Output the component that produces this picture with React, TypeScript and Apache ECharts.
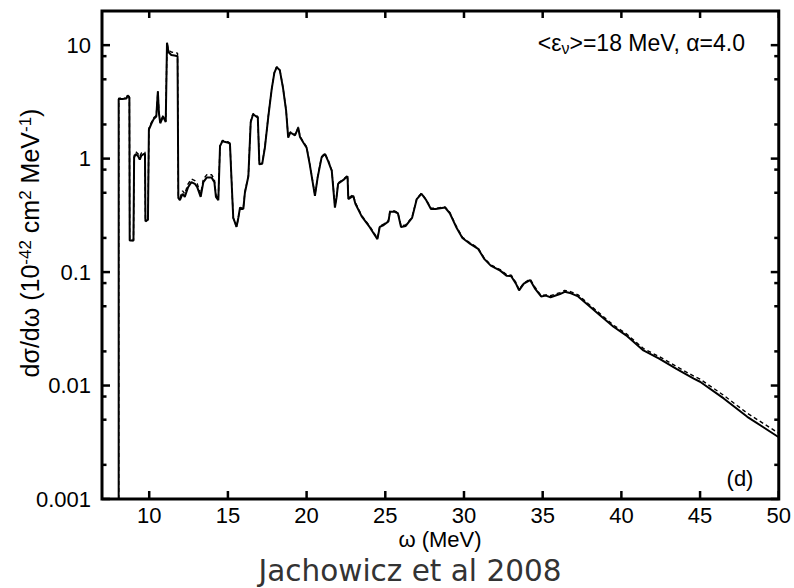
import React, { useEffect, useRef } from "react";
import * as echarts from "echarts";

const omega = [8.06, 8.06, 8.3, 8.55, 8.63, 8.74, 8.76, 9.0, 9.04, 9.15, 9.3, 9.4, 9.5, 9.65, 9.73, 9.76, 9.92, 9.98, 10.15, 10.3, 10.45, 10.55, 10.62, 10.7, 10.88, 11.05, 11.13, 11.22, 11.4, 11.6, 11.8, 11.85, 11.95, 12.12, 12.26, 12.47, 12.68, 12.9, 13.05, 13.27, 13.44, 13.65, 13.97, 14.14, 14.24, 14.39, 14.5, 14.65, 15.03, 15.13, 15.24, 15.34, 15.55, 15.66, 15.77, 15.98, 16.08, 16.3, 16.45, 16.6, 16.9, 17.0, 17.18, 17.35, 17.56, 17.78, 17.95, 18.1, 18.3, 18.5, 18.7, 18.83, 18.97, 19.26, 19.47, 19.58, 19.8, 20.0, 20.2, 20.53, 20.7, 20.95, 21.16, 21.37, 21.6, 21.8, 21.9, 22.0, 22.4, 22.6, 22.65, 22.96, 23.1, 23.5, 24.0, 24.5, 24.65, 24.9, 25.2, 25.3, 25.6, 25.8, 26.0, 26.3, 26.7, 27.0, 27.3, 27.6, 27.9, 28.2, 28.8, 29.1, 29.5, 29.9, 30.4, 30.9, 31.3, 31.7, 32.3, 32.7, 33.0, 33.3, 33.5, 33.8, 34.2, 34.5, 34.9, 35.2, 35.5, 36.1, 36.4, 36.8, 37.25, 37.9, 38.6, 39.5, 40.3, 41.4, 42.4, 43.5, 44.6, 45.0, 46.5, 48.0, 50.0];

const sigmaSolid = [0.001, 3.35, 3.35, 3.38, 3.6, 3.45, 0.19, 0.19, 1.02, 1.1, 1.05, 0.98, 1.06, 1.1, 1.1, 0.28, 0.29, 1.8, 2.05, 2.25, 2.35, 3.9, 2.5, 2.05, 2.35, 2.1, 10.5, 8.7, 8.2, 8.1, 8.0, 0.45, 0.43, 0.49, 0.46, 0.56, 0.62, 0.6, 0.56, 0.46, 0.62, 0.68, 0.68, 0.62, 0.46, 0.43, 1.29, 1.42, 1.38, 1.35, 0.6, 0.3, 0.25, 0.3, 0.37, 0.36, 0.5, 0.7, 2.1, 2.46, 2.3, 0.89, 0.9, 1.25, 2.3, 4.07, 5.7, 6.4, 6.0, 4.2, 2.63, 1.53, 1.7, 1.6, 1.87, 1.55, 1.38, 1.25, 0.89, 0.47, 0.68, 1.02, 1.1, 0.95, 0.78, 0.37, 0.45, 0.6, 0.66, 0.7, 0.44, 0.47, 0.4, 0.31, 0.25, 0.195, 0.25, 0.26, 0.28, 0.34, 0.34, 0.33, 0.25, 0.255, 0.3, 0.44, 0.49, 0.43, 0.36, 0.36, 0.37, 0.33, 0.25, 0.2, 0.177, 0.16, 0.13, 0.114, 0.103, 0.093, 0.092, 0.079, 0.069, 0.079, 0.085, 0.072, 0.061, 0.062, 0.06, 0.064, 0.067, 0.065, 0.061, 0.051, 0.042, 0.033, 0.0277, 0.0204, 0.0173, 0.014, 0.0115, 0.0108, 0.0077, 0.0053, 0.0035];

const sigmaDashed = [0.001, 3.4, 3.4, 3.42, 3.65, 3.5, 0.19, 0.19, 1.06, 1.15, 1.1, 1.04, 1.12, 1.15, 1.14, 0.28, 0.29, 1.85, 2.1, 2.3, 2.4, 3.95, 2.55, 2.1, 2.4, 2.15, 10.6, 9.0, 8.7, 8.6, 8.5, 0.46, 0.45, 0.52, 0.49, 0.6, 0.66, 0.64, 0.6, 0.49, 0.66, 0.72, 0.72, 0.66, 0.48, 0.44, 1.32, 1.45, 1.4, 1.37, 0.61, 0.3, 0.25, 0.3, 0.37, 0.37, 0.51, 0.71, 2.15, 2.5, 2.35, 0.9, 0.91, 1.27, 2.33, 4.1, 5.75, 6.45, 6.05, 4.25, 2.66, 1.55, 1.72, 1.62, 1.9, 1.57, 1.4, 1.27, 0.9, 0.48, 0.69, 1.04, 1.12, 0.97, 0.79, 0.38, 0.46, 0.61, 0.67, 0.71, 0.45, 0.48, 0.41, 0.315, 0.255, 0.198, 0.255, 0.265, 0.285, 0.345, 0.345, 0.335, 0.255, 0.26, 0.305, 0.445, 0.495, 0.435, 0.365, 0.365, 0.375, 0.335, 0.255, 0.203, 0.18, 0.163, 0.132, 0.116, 0.105, 0.095, 0.094, 0.081, 0.07, 0.08, 0.087, 0.074, 0.062, 0.063, 0.062, 0.066, 0.069, 0.067, 0.063, 0.0525, 0.0435, 0.034, 0.0287, 0.0212, 0.018, 0.0147, 0.0121, 0.0114, 0.0082, 0.0057, 0.0038];

const xTickValues = [10, 15, 20, 25, 30, 35, 40, 45, 50];
const yMajorTicks = [0.001, 0.01, 0.1, 1, 10];
const yMinorTicks = [0.002, 0.005, 0.008, 0.02, 0.05, 0.08, 0.2, 0.5, 0.8, 2, 5, 8];

export default function App() {
  const ref = useRef<HTMLDivElement>(null);
  useEffect(() => {
    if (!ref.current) return;
    const chart = echarts.init(ref.current, null, { renderer: "svg" });
    const font = "'Liberation Sans', Arial, Helvetica, sans-serif";
    const fmt = (v: number) => {
      const e = Math.round(Math.log10(v));
      return e >= 0 ? String(Math.round(Math.pow(10, e))) : Math.pow(10, e).toFixed(-e);
    };
    const solid = omega.map((w, i) => [w, sigmaSolid[i]]);
    const dashed = omega.map((w, i) => [w, sigmaDashed[i]]);
    const ink = "#000000";
    const tickStyle = { stroke: ink, lineWidth: 2.5 };

    const xTickRender = (params: any, api: any) => {
      const cs = params.coordSys;
      const x = api.coord([api.value(0), 1])[0];
      const top = cs.y;
      const bottom = cs.y + cs.height;
      return {
        type: "group",
        children: [
          { type: "line", shape: { x1: x, y1: bottom, x2: x, y2: bottom - 8 }, style: tickStyle },
          { type: "line", shape: { x1: x, y1: top, x2: x, y2: top + 7 }, style: tickStyle },
        ],
      };
    };
    const yTickRender = (len: number) => (params: any, api: any) => {
      const cs = params.coordSys;
      const y = api.coord([10, api.value(1)])[1];
      const left = cs.x;
      const right = cs.x + cs.width;
      return {
        type: "group",
        children: [
          { type: "line", shape: { x1: left, y1: y, x2: left + len, y2: y }, style: tickStyle },
          { type: "line", shape: { x1: right, y1: y, x2: right - len, y2: y }, style: tickStyle },
        ],
      };
    };

    chart.setOption({
      animation: false,
      backgroundColor: "#ffffff",
      grid: {
        left: 102,
        right: 15,
        top: 11,
        bottom: 89,
        containLabel: false,
        show: true,
        borderColor: ink,
        borderWidth: 3,
        backgroundColor: "transparent",
      },
      xAxis: {
        type: "value",
        min: 7,
        max: 50,
        position: "bottom",
        axisLine: { show: false, onZero: false },
        axisTick: { show: false },
        axisLabel: { show: true, customValues: xTickValues, color: ink, fontSize: 22, fontFamily: font, margin: 5 },
        splitLine: { show: false },
      },
      yAxis: {
        type: "log",
        logBase: 10,
        min: 0.001,
        max: 20,
        position: "left",
        axisLine: { show: false, onZero: false },
        axisTick: { show: false },
        axisLabel: { show: true, customValues: yMajorTicks, formatter: fmt, color: ink, fontSize: 22, fontFamily: font, margin: 11 },
        splitLine: { show: false },
        minorTick: { show: false },
      },
      series: [
        {
          type: "line",
          data: dashed,
          showSymbol: false,
          symbol: "none",
          lineStyle: { color: ink, width: 1.4, type: [4, 3] },
          z: 2,
        },
        {
          type: "line",
          data: solid,
          showSymbol: false,
          symbol: "none",
          lineStyle: { color: ink, width: 2 },
          z: 3,
        },
        {
          type: "custom",
          data: xTickValues.map((v) => [v, 1]),
          renderItem: xTickRender,
          clip: false,
          silent: true,
          z: 5,
        },
        {
          type: "custom",
          data: yMajorTicks.map((v) => [10, v]),
          renderItem: yTickRender(8),
          clip: false,
          silent: true,
          z: 5,
        },
        {
          type: "custom",
          data: yMinorTicks.map((v) => [10, v]),
          renderItem: yTickRender(4.5),
          clip: false,
          silent: true,
          z: 5,
        },
      ],
      graphic: [
        {
          type: "text",
          x: 745,
          y: 43,
          style: {
            text: "<ε{sub|ν}>=18 MeV, α=4.0",
            align: "right",
            verticalAlign: "middle",
            fontSize: 23,
            fontFamily: font,
            fill: ink,
            rich: { sub: { fontSize: 16, fontFamily: font, verticalAlign: "bottom", padding: [10, 0, 0, 0] } },
          },
        },
        {
          type: "text",
          x: 740,
          y: 478,
          style: { text: "(d)", align: "center", verticalAlign: "middle", fontSize: 22, fontFamily: font, fill: ink },
        },
        {
          type: "text",
          x: 440,
          y: 539,
          style: { text: "ω (MeV)", align: "center", verticalAlign: "middle", fontSize: 22, fontFamily: font, fill: ink },
        },
        {
          type: "text",
          x: 410,
          y: 571,
          style: { text: "Jachowicz et al 2008", align: "center", verticalAlign: "middle", fontSize: 29.5, lineHeight: 30, fontFamily: "'DejaVu Sans', 'Open Sans', sans-serif", fill: "#333333" },
        },
        {
          type: "text",
          x: 30,
          y: 243,
          rotation: Math.PI / 2,
          style: {
            text: "dσ/dω (10{sup|-42} cm{sup|2} MeV{sup|-1})",
            align: "center",
            verticalAlign: "middle",
            fontSize: 25,
            fontFamily: font,
            fill: ink,
            rich: { sup: { fontSize: 17, fontFamily: font, verticalAlign: "top", padding: [0, 0, 10, 0] } },
          },
        },
      ],
    });
    return () => chart.dispose();
  }, []);
  return <div ref={ref} style={{ position: "fixed", left: 0, top: 0, width: 794, height: 588 }} />;
}
